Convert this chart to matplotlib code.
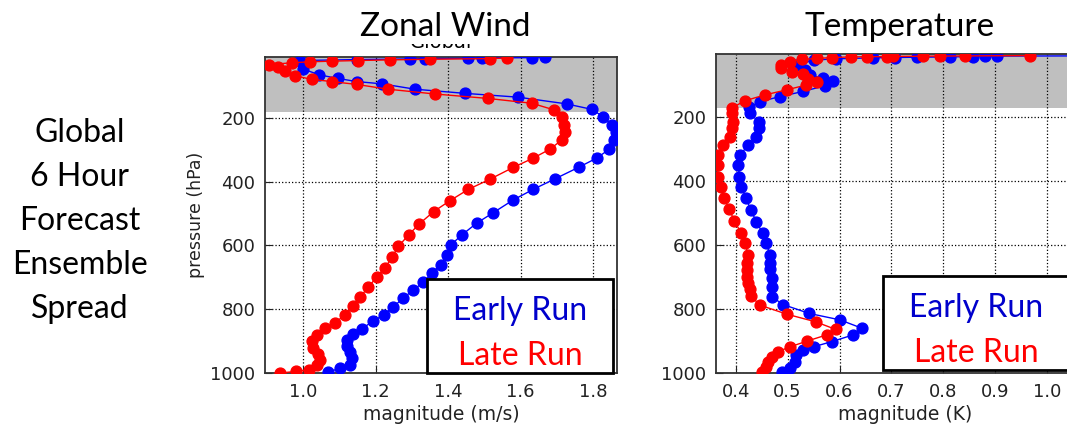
import matplotlib.pyplot as plt
from matplotlib.patches import Rectangle

# Zonal wind spread (m/s) vs pressure (hPa)
wind_early_p = [997, 985, 974, 953, 933, 915, 896, 878, 862, 836, 818, 792, 765, 739, 716,
                687, 661, 629, 598, 567, 530, 497, 457, 424, 391, 355, 326, 298, 269, 243,
                222, 196, 173, 156, 135, 123, 110, 93, 86, 76, 65, 47,
                20, 17, 15, 14, 13, 12, 11, 10]
wind_early = [1.070, 1.102, 1.130, 1.134, 1.130, 1.122, 1.122, 1.139, 1.162, 1.194, 1.223, 1.249, 1.277, 1.304, 1.332,
              1.355, 1.380, 1.396, 1.408, 1.438, 1.479, 1.525, 1.580, 1.635, 1.695, 1.760, 1.810, 1.845, 1.858, 1.862,
              1.852, 1.828, 1.796, 1.727, 1.594, 1.447, 1.309, 1.217, 1.148, 1.095, 1.045, 1.001,
              0.992, 1.148, 1.295, 1.337, 1.456, 1.493, 1.631, 1.668]

wind_late_p = [1000, 995, 990, 976, 959, 940, 922, 901, 880, 859, 842, 818, 789, 762, 731,
               699, 671, 637, 603, 567, 532, 494, 459, 424, 392, 355, 326, 298, 269, 243,
               222, 198, 175, 154, 139, 125, 110, 95, 86, 79, 68, 52, 40, 33,
               27, 24, 22, 20, 18, 16, 14, 12]
wind_late = [0.937, 0.981, 1.015, 1.038, 1.047, 1.042, 1.028, 1.024, 1.038, 1.061, 1.088, 1.116, 1.137, 1.157, 1.180,
             1.203, 1.226, 1.245, 1.263, 1.291, 1.321, 1.360, 1.406, 1.456, 1.516, 1.580, 1.635, 1.681, 1.714, 1.723,
             1.720, 1.714, 1.693, 1.631, 1.511, 1.364, 1.235, 1.148, 1.079, 1.024, 0.978, 0.950, 0.930, 0.905,
             0.969, 1.019, 1.079, 1.152, 1.240, 1.350, 1.516, 1.562]

# Temperature spread (K) vs pressure (hPa)
temp_early_p = [996, 985, 965, 944, 928, 918, 902, 881, 860, 834, 814, 786, 762, 732, 704,
                676, 657, 631, 595, 563, 528, 490, 454, 418, 387, 350, 319, 288, 262, 235,
                215, 188, 170, 152, 136, 120, 102, 88, 79, 69, 53, 38,
                22, 18, 15, 14, 13, 12, 11, 10, 9.5, 9]
temp_early = [0.490, 0.505, 0.514, 0.516, 0.530, 0.550, 0.585, 0.626, 0.643, 0.601, 0.542, 0.491, 0.470, 0.469, 0.469,
              0.467, 0.467, 0.466, 0.459, 0.452, 0.440, 0.429, 0.420, 0.411, 0.407, 0.405, 0.408, 0.424, 0.440, 0.444,
              0.444, 0.428, 0.426, 0.447, 0.485, 0.530, 0.572, 0.588, 0.569, 0.543, 0.533, 0.517,
              0.550, 0.594, 0.665, 0.707, 0.749, 0.813, 0.858, 0.880, 0.903, 1.050]

temp_late_p = [996, 980, 965, 949, 933, 918, 900, 881, 864, 840, 816, 788, 759, 738, 720,
               699, 678, 657, 631, 595, 563, 525, 488, 454, 418, 387, 350, 319, 288, 262,
               235, 215, 188, 172, 149, 131, 115, 100, 90, 80, 66, 58, 47, 37,
               27, 20, 17, 14, 12, 11.5, 11, 10.5, 10, 9.5, 9, 8]
temp_late = [0.450, 0.458, 0.463, 0.469, 0.482, 0.505, 0.538, 0.575, 0.593, 0.554, 0.498, 0.447, 0.429, 0.428, 0.424,
             0.422, 0.421, 0.422, 0.424, 0.418, 0.411, 0.397, 0.388, 0.377, 0.371, 0.366, 0.365, 0.366, 0.376, 0.389,
             0.392, 0.394, 0.392, 0.392, 0.418, 0.456, 0.498, 0.536, 0.556, 0.540, 0.530, 0.508, 0.488, 0.488,
             0.505, 0.527, 0.556, 0.585, 0.623, 0.652, 0.691, 0.704, 0.761, 0.794, 0.842, 0.967]

side_lines = ['Global', '6 Hour', 'Forecast', 'Ensemble', 'Spread']
pressure_ticks = [200, 400, 600, 800, 1000]
wind_ticks = [1.0, 1.2, 1.4, 1.6, 1.8]
temp_ticks = [0.4, 0.5, 0.6, 0.7, 0.8, 0.9, 1.0]

W, H = 1067, 429
BLUE, RED = '#0000ff', '#ff0000'
SLIDE_FONT = ['Lato', 'DejaVu Sans']

fig = plt.figure(figsize=(W / 100, H / 100), dpi=100)


def box(x0, y0, x1, y1):
    # pixel box (top-left origin) -> figure fraction rect
    return [x0 / W, 1 - y1 / H, (x1 - x0) / W, (y1 - y0) / H]


def style_axes(ax, top, xlim, xticks, shade):
    ax.set_ylim(1000, top)
    ax.set_xlim(*xlim)
    ax.set_xticks(xticks)
    ax.set_yticks(pressure_ticks)
    ax.axhspan(top, shade, color='#bfbfbf', lw=0, zorder=1)
    ax.grid(True, ls=':', color='black', lw=0.9)
    ax.tick_params(direction='in', length=5, labelsize=13, colors='#222222', pad=7)
    for s in ax.spines.values():
        s.set_color('#333333')
        s.set_linewidth(1.3)


def profile(ax, v, p, color):
    ax.plot(v, p, '-o', color=color, lw=1.0, ms=7.8, mec=color, zorder=3)


ax1 = fig.add_axes(box(265, 56.7, 617, 373))
profile(ax1, wind_early, wind_early_p, BLUE)
profile(ax1, wind_late, wind_late_p, RED)
style_axes(ax1, 8, (0.895, 1.866), wind_ticks, 181)
ax1.set_xlabel('magnitude (m/s)', fontsize=13.5, color='#222222', labelpad=3)
ax1.set_ylabel('pressure (hPa)', fontsize=12.5, color='#222222', labelpad=4)
ax1.set_title('Global', fontsize=14, pad=6)

ax2 = fig.add_axes(box(716, 54, 1095, 373))
profile(ax2, temp_early, temp_early_p, BLUE)
profile(ax2, temp_late, temp_late_p, RED)
style_axes(ax2, 3, (0.362, 0.362 + 379 / 519), temp_ticks, 173)
ax2.set_xlabel('magnitude (K)', fontsize=13.5, color='#222222', labelpad=3)

# slide overlay: white strip hiding most of the plot title, slide titles
fig.patches.append(Rectangle((0, 1 - 44 / H), 1, 44 / H, transform=fig.transFigure,
                             facecolor='white', edgecolor='none', zorder=5))
fig.text(445 / W, 1 - 36 / H, 'Zonal Wind', ha='center', va='baseline',
         fontsize=24, family=SLIDE_FONT, zorder=6)
fig.text(900 / W, 1 - 36 / H, 'Temperature', ha='center', va='baseline',
         fontsize=24, family=SLIDE_FONT, zorder=6)

for i, line in enumerate(side_lines):
    fig.text(80 / W, 1 - (142 + 44 * i) / H, line, ha='center', va='baseline',
             fontsize=23, family=SLIDE_FONT)

# slide legend boxes
for (x0, y0, x1, y1), cx, base in [((427, 279, 613, 373), 520, 320),
                                    ((883, 276, 1090, 370), 976, 317)]:
    fig.patches.append(Rectangle(box(x0, y0, x1, y1)[:2], (x1 - x0) / W, (y1 - y0) / H,
                                 transform=fig.transFigure, facecolor='white',
                                 edgecolor='black', lw=2, zorder=5))
    fig.text(cx / W, 1 - base / H, 'Early Run', ha='center', va='baseline',
             fontsize=23, color='#0000cc', family=SLIDE_FONT, zorder=6)
    fig.text(cx / W, 1 - (base + 45) / H, 'Late Run', ha='center', va='baseline',
             fontsize=23, color='#ff0000', family=SLIDE_FONT, zorder=6)

fig.savefig('out.png', dpi=100)
